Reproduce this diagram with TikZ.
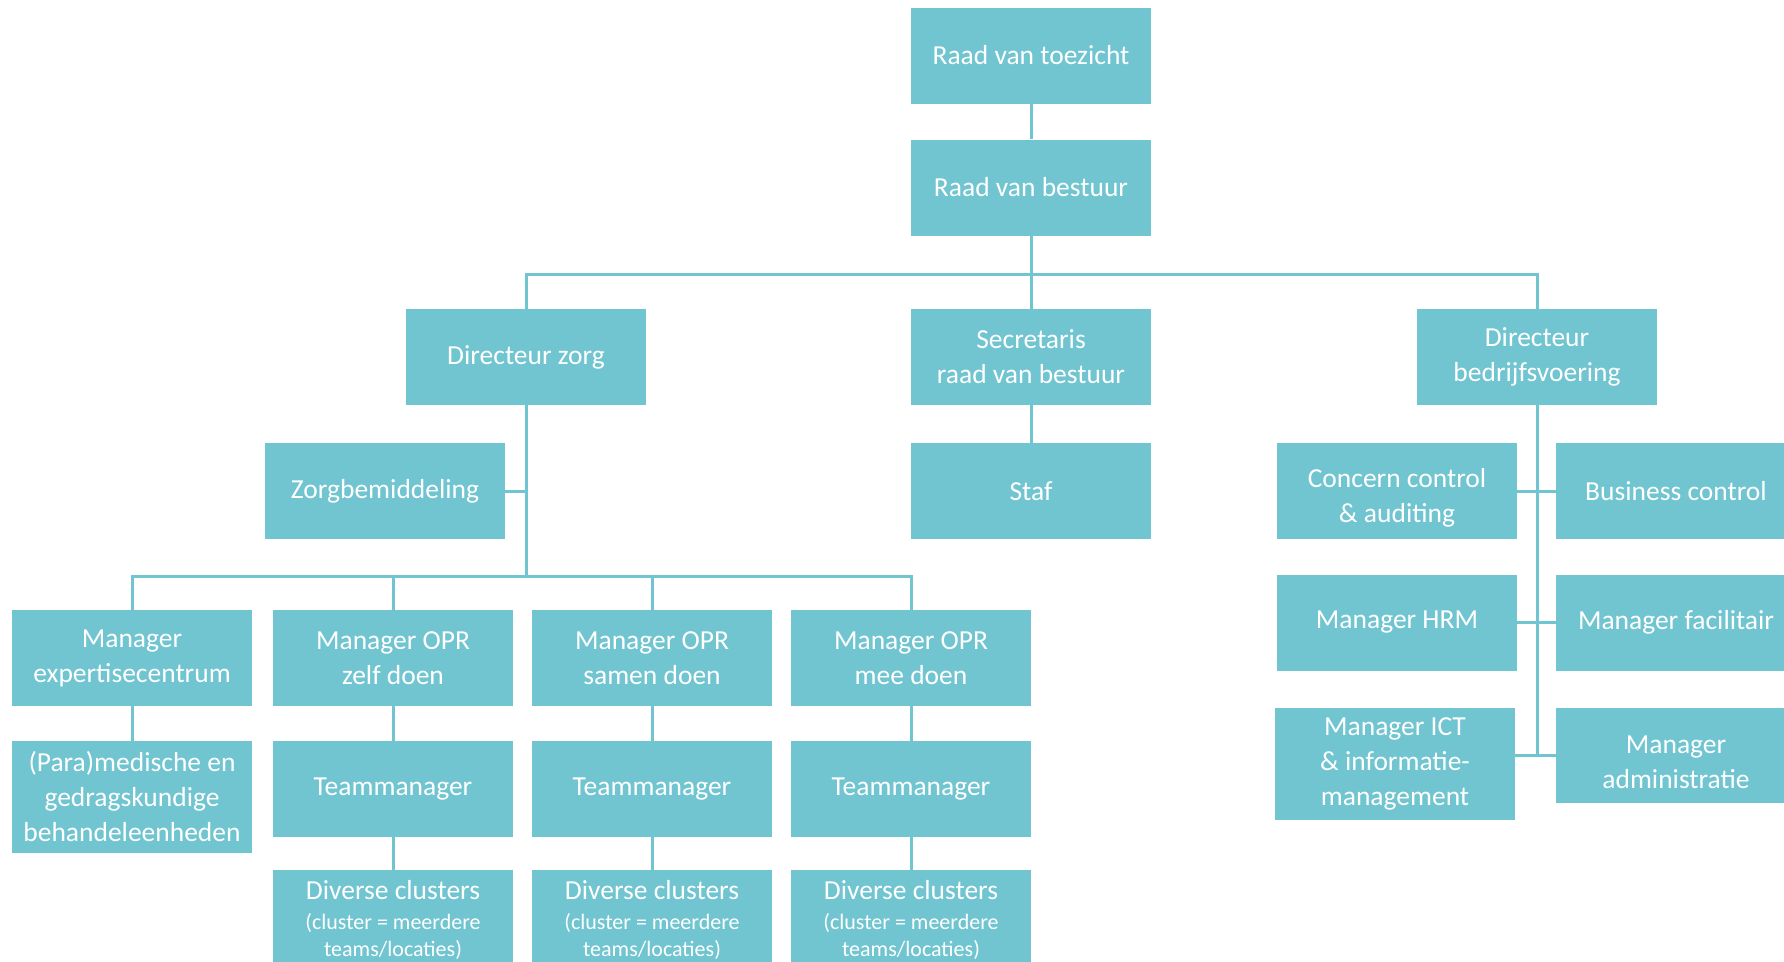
\documentclass[tikz,border=0pt]{standalone}
\usepackage{fontspec}
\setmainfont{Carlito}
\usetikzlibrary{positioning}
\definecolor{orgteal}{RGB}{112,197,208}

\begin{document}
\begin{tikzpicture}[x=1pt,y=-1pt,line cap=butt,
  box/.style={fill=orgteal,text=white,inner sep=0pt,align=center,
    minimum width=\bw pt,minimum height=\bh pt,font=\fontsize{27.5}{35}\selectfont},
  tallbox/.style={box,minimum height=112pt},
  lowtext/.style={label={[text=white,align=center,font=\fontsize{27.5}{35}\selectfont,yshift=-7pt]center:{#1}}},
  link/.style={draw=orgteal,line width=3pt}]

\def\bw{240} %box width
\def\bh{96} %box height

\clip (0,0) rectangle (1784,961);

%top
\node[box] (toezicht) at (1031,55.5) {Raad van toezicht};
\node[box] (bestuur) at (1031,187.5) {Raad van bestuur};

%directors
\coordinate (bus) at (0,274);
\node[box] (dirzorg) at (526,357) {Directeur zorg};
\node[box] (secr) at (1031,357) {Secretaris\\raad van bestuur};
\node[box] (dirbedr) at (1537,357) {Directeur\\bedrijfsvoering};

\node[box] (zorgbem) at (385,491) {Zorgbemiddeling};
\node[box] (staf) at (1031,491) {Staf};

%zorg
\coordinate (lowbus) at (0,576);
\node[box] (mexp) at (132,658) {Manager\\expertisecentrum};
\node[box] (mzelf) at (393,658) {Manager OPR\\zelf doen};
\node[box] (msamen) at (652,658) {Manager OPR\\samen doen};
\node[box] (mmee) at (911,658) {Manager OPR\\mee doen};

\node[tallbox] (para) at (132,797) {(Para)medische en\\gedragskundige\\behandeleenheden};
\node[box] (tzelf) at (393,789) {Teammanager};
\node[box] (tsamen) at (652,789) {Teammanager};
\node[box] (tmee) at (911,789) {Teammanager};

\foreach \n/\x in {czelf/393,csamen/652,cmee/911}
  \node[box,minimum height=100pt,font=\fontsize{22}{27}\selectfont] (\n) at (\x,920)
    {{\fontsize{27.5}{35}\selectfont Diverse clusters}\\[3pt](cluster = meerdere\\teams/locaties)};

%bedrijfsvoering
\node[box,lowtext={Concern control\\\& auditing}] (concern) at (1397,491) {};
\node[box] (business) at (1676,491) {Business control};
\node[box] (hrm) at (1397,622.5) {Manager HRM};
\node[box] (facil) at (1676,622.5) {Manager facilitair};
\node[tallbox] (ict) at (1395,764) {Manager ICT\\\& informatie-\\management};
\node[box,minimum height=95pt,lowtext={Manager\\administratie}] (admin) at (1676,755.5) {};

%lines
\draw[link] (toezicht.south) -- (bestuur.north);
\draw[link] (bestuur.south) -- (secr.north);
\draw[link] (dirzorg.north) -- (dirzorg.north |- bus) -- (dirbedr.north |- bus) -- (dirbedr.north);
\draw[link] (secr.south) -- (staf.north);
\draw[link] (zorgbem.east) -- (zorgbem.east -| dirzorg.south);
\draw[link] (dirzorg.south) -- (dirzorg.south |- lowbus);
\draw[link] (mexp.north) -- (mexp.north |- lowbus) -- (mmee.north |- lowbus) -- (mmee.north);
\foreach \n in {mzelf,msamen}
  \draw[link] (\n.north) -- (\n.north |- lowbus);
\draw[link] (mexp.south) -- (para.north);
\draw[link] (mzelf.south) -- (tzelf.north);
\draw[link] (msamen.south) -- (tsamen.north);
\draw[link] (mmee.south) -- (tmee.north);
\draw[link] (tzelf.south) -- (czelf.north);
\draw[link] (tsamen.south) -- (csamen.north);
\draw[link] (tmee.south) -- (cmee.north);

\draw[link] (dirbedr.south) -- (dirbedr.south |- admin.west);
\draw[link] (concern.east) -- (business.west);
\draw[link] (hrm.east) -- (facil.west);
\draw[link] (admin.west -| ict.east) -- (admin.west);
\end{tikzpicture}
\end{document}
